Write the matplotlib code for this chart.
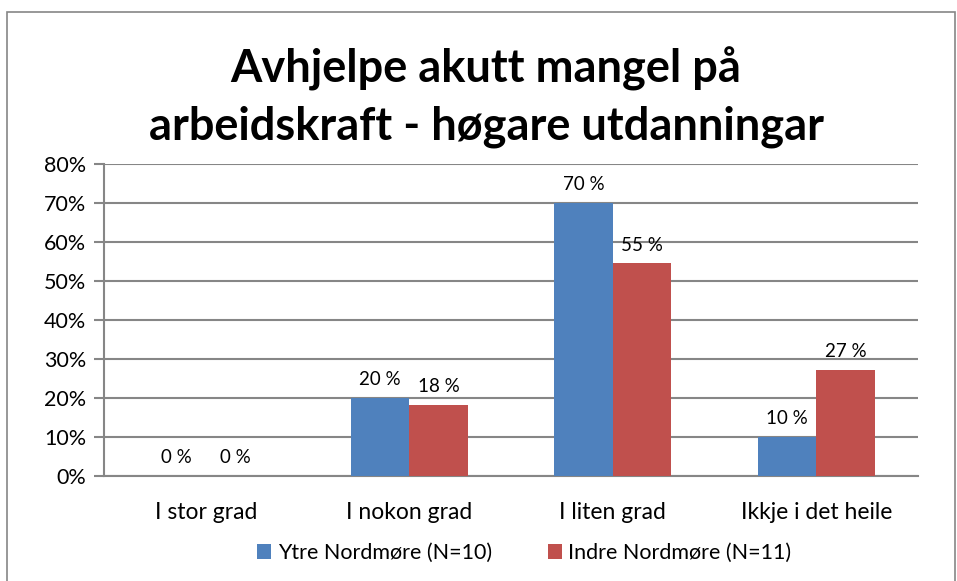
import matplotlib
matplotlib.use("Agg")
import matplotlib.pyplot as plt
from matplotlib.patches import Rectangle
import numpy as np

categories = ["I stor grad", "I nokon grad", "I liten grad", "Ikkje i det heile"]
ytre = [0, 20, 70, 10]
indre = [0, 18.18, 54.55, 27.27]
series_names = ["Ytre Nordmøre (N=10)", "Indre Nordmøre (N=11)"]
title = "Avhjelpe akutt mangel på\narbeidskraft - høgare utdanningar"

plt.rcParams['font.family'] = ['Lato', 'DejaVu Sans']

fig = plt.figure(figsize=(9.57, 5.81), dpi=100)
ax = fig.add_axes([104/957, 1-476/581, (918-104)/957, (476-164)/581])

blue = "#4F81BD"
red = "#C0504D"
x = np.arange(len(categories))
w = 0.287
b1 = ax.bar(x - w/2, ytre, w, color=blue, label=series_names[0], zorder=3)
b2 = ax.bar(x + w/2, indre, w, color=red, label=series_names[1], zorder=3)

for bars, vals in ((b1, ytre), (b2, indre)):
    for rect, v in zip(bars, vals):
        ax.annotate(f"{v:.0f} %", (rect.get_x() + rect.get_width()/2, v),
                    xytext=(0, 7), textcoords="offset points",
                    ha="center", va="bottom", fontsize=13.5, color="#000000")

ax.set_xlim(-0.5, 3.5)
ax.set_ylim(0, 80)
ax.set_yticks(range(0, 81, 10))
ax.set_yticklabels([f"{t}%" for t in range(0, 81, 10)], fontsize=15.5)
ax.set_xticks(x)
ax.set_xticklabels(categories, fontsize=16.5)
ax.tick_params(axis='x', length=0, pad=19)
ax.tick_params(axis='y', length=7, width=1.5, color="#868686", pad=6)
ax.grid(axis='y', color="#868686", linewidth=1.5, zorder=0)
for s in ("top", "right"):
    ax.spines[s].set_visible(False)
for s in ("left", "bottom"):
    ax.spines[s].set_color("#868686")
    ax.spines[s].set_linewidth(1.5)

fig.text(0.508, 1-97/581, title, ha="center", va="center", fontsize=32.5,
         fontweight="bold", linespacing=1.42)

fig.legend(handles=[b1, b2], labels=series_names, loc="center",
           bbox_to_anchor=(0.548, 1-553/581), ncol=2, frameon=False,
           fontsize=15.5, handlelength=0.65, handleheight=0.65,
           handletextpad=0.3, columnspacing=2.6)

fig.patches.append(Rectangle((7/957, -0.01), (955-7)/957, (581-12)/581 + 0.01,
                             transform=fig.transFigure, fill=False,
                             edgecolor="#868686", linewidth=1.2))

fig.savefig("out.png", dpi=100, facecolor="white")
